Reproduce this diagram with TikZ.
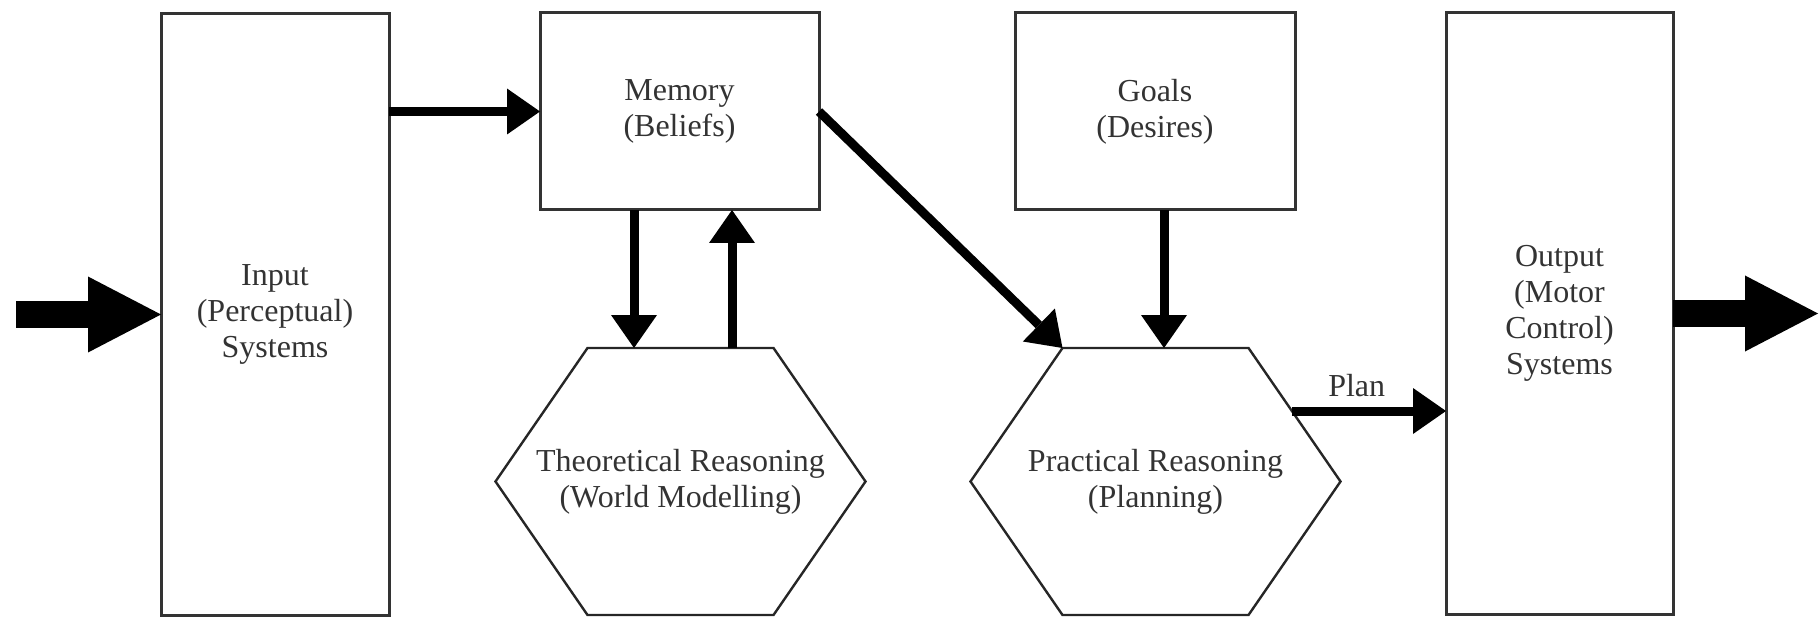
\documentclass[tikz,border=0pt]{standalone}
\usepackage{fontspec}
\setmainfont{Liberation Serif}
\usetikzlibrary{arrows.meta,calc}
\begin{document}
\begin{tikzpicture}[x=1pt,y=-1pt,
  lbl/.style={font=\fontsize{32}{36}\selectfont, text=black!80, align=center},
  box/.style={lbl, draw=black!80, line width=3pt, inner sep=0pt, outer sep=0pt},
  hexnode/.style={lbl, inner sep=0pt, outer sep=0pt, minimum width=370pt, minimum height=267pt},
  hexline/.style={draw=black!85, line width=2.4pt, line join=miter},
  medarrow/.style={line width=9pt, -{Triangle[length=33pt,width=46pt,line width=0pt]}},
  bigarrow/.style={line width=26pt, -{Triangle[length=73pt,width=76pt,line width=0pt]}},
]
\useasboundingbox (0,0) rectangle (1820,620);

% boxes
\node[box, minimum width=228pt, minimum height=601pt] (in) at (275,314.5) {Input\\(Perceptual)\\Systems};
\node[box, minimum width=279pt, minimum height=197pt] (mem) at (679.5,111.5) {Memory\\(Beliefs)};
\node[box, minimum width=280pt, minimum height=197pt] (goal) at (1155,111.5) {Goals\\(Desires)};
\node[box, minimum width=227pt, minimum height=601pt] (out) at (1559.5,313.5) {Output\\(Motor\\Control)\\Systems};

% hexagons
\node[hexnode] (theo) at (680.5,481.5) {Theoretical Reasoning\\(World Modelling)};
\node[hexnode] (prac) at (1155.5,481.5) {Practical Reasoning\\(Planning)};
\draw[hexline] ($(theo.north west)+(92,0)$) -- ($(theo.north east)+(-92,0)$) -- (theo.east)
  -- ($(theo.south east)+(-92,0)$) -- ($(theo.south west)+(92,0)$) -- (theo.west) -- cycle;
\draw[hexline] ($(prac.north west)+(92,0)$) -- ($(prac.north east)+(-92,0)$) -- (prac.east)
  -- ($(prac.south east)+(-92,0)$) -- ($(prac.south west)+(92,0)$) -- (prac.west) -- cycle;

% coordinates
\coordinate (inL) at (16,314.5);
\coordinate (outR) at (1818,313.5);
\coordinate (m1) at ([xshift=-45.5pt]mem.south);
\coordinate (t1) at (m1 |- theo.north);
\coordinate (t2) at ([xshift=51.5pt]theo.north);
\coordinate (m2) at (t2 |- mem.south);
\coordinate (prac-tl) at ($(prac.north west)+(92,0)$);
\coordinate (g1) at ([xshift=9pt]goal.south);
\coordinate (p1) at (g1 |- prac.north);
\coordinate (ps) at (1292,411);
\coordinate (o1) at (ps -| out.west);

% connectors
\draw[bigarrow] (inL) -- (in.west);
\draw[medarrow] (in.east |- mem.west) -- (mem.west);
\draw[medarrow] (m1) -- (t1);
\draw[medarrow] (t2) -- (m2);
\draw[medarrow] (mem.east) -- (prac-tl);
\draw[medarrow] (g1) -- (p1);
\draw[medarrow] (ps) -- (o1) node[lbl, pos=0.42, above=10pt, inner sep=0pt] (plan) {Plan};
\draw[bigarrow] (out.east) -- (outR);
\end{tikzpicture}
\end{document}
